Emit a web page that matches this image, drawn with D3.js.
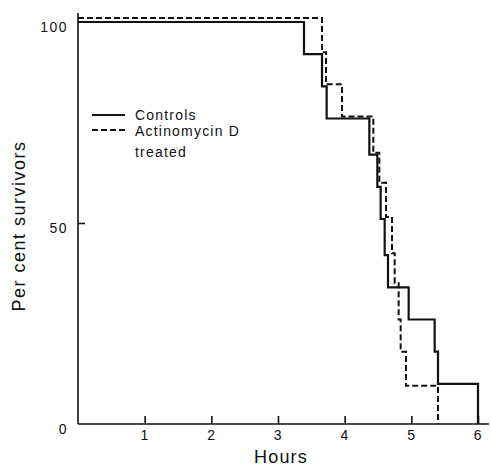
<!DOCTYPE html>
<html>
<head>
<meta charset="utf-8">
<title>Survivors</title>
<script src="https://d3js.org/d3.v7.min.js"></script>
<style>
  body { margin: 0; background: #fff; }
  text { font-family: "Liberation Sans", Arial, sans-serif; fill: #111; }
</style>
</head>
<body>
<div id="chart"></div>
<script>
// step data (hours, per cent)
const ctrlHours  = [0, 3.39, 3.66, 3.73, 4.37, 4.49, 4.54, 4.60, 4.65, 4.96, 5.35, 5.40, 6.0];
const ctrlLevels = [100, 92, 84, 76, 67, 59, 51, 42, 34, 26, 18, 10, 0];
const actHours   = [0, 3.66, 3.72, 3.96, 4.43, 4.52, 4.62, 4.71, 4.75, 4.81, 4.84, 4.92, 5.40];
const actLevels  = [101, 92.5, 84.5, 76.5, 67.5, 60, 51.5, 42.5, 35, 26, 18, 9.5, 0];
const xTicks = [1, 2, 3, 4, 5, 6];
const yTicks = [0, 50, 100];

const W = 491, H = 466;
const svg = d3.select("#chart").append("svg")
  .attr("width", W).attr("height", H);

const x = d3.scaleLinear().domain([0, 6]).range([78, 478]);
const y = d3.scaleLinear().domain([0, 100]).range([424, 22]);

// axes drawn by hand-ish, the figure has no domain box
const xAxis = svg.append("g").attr("transform", `translate(0,${y(0)})`)
  .call(d3.axisBottom(x).tickValues(xTicks).tickSize(-8).tickPadding(6).tickFormat(d3.format("d")));
xAxis.select(".domain").attr("d", `M${x(0)},0H489`);
const yAxis = svg.append("g").attr("transform", `translate(${x(0)},0)`)
  .call(d3.axisLeft(y).tickValues(yTicks).tickSize(0).tickPadding(10));
yAxis.select(".domain").attr("d", `M0,${y(0)}V13`);
// only the 50 mark has a small inward tick
yAxis.selectAll(".tick line").attr("x2", d => d === 50 ? 7 : 0);

svg.selectAll(".domain, .tick line").attr("stroke", "#111").attr("stroke-width", 1.6);
svg.selectAll(".tick text")
  .style("font-size", "14px").style("letter-spacing", "1.5px").attr("fill", "#111");
yAxis.selectAll(".tick text").attr("dy", "0.65em");

// step curves
const line = d3.line().curve(d3.curveStepAfter)
  .x(d => x(d[0])).y(d => y(d[1]));

svg.append("path")
  .datum(ctrlHours.map((h, i) => [h, ctrlLevels[i]]))
  .attr("d", line).attr("fill", "none")
  .attr("stroke", "#111").attr("stroke-width", 2.2);

svg.append("path")
  .datum(actHours.map((h, i) => [h, actLevels[i]]))
  .attr("d", line).attr("fill", "none")
  .attr("stroke", "#111").attr("stroke-width", 2)
  .attr("stroke-dasharray", "6,3");

// legend
const leg = svg.append("g");
leg.append("line").attr("x1", 92).attr("x2", 125).attr("y1", 115).attr("y2", 115)
  .attr("stroke", "#111").attr("stroke-width", 2);
leg.append("line").attr("x1", 92).attr("x2", 125).attr("y1", 130).attr("y2", 130)
  .attr("stroke", "#111").attr("stroke-width", 2).attr("stroke-dasharray", "6,3");
leg.append("text").attr("x", 135).attr("y", 120).text("Controls")
  .style("font-size", "14px").style("letter-spacing", "1.2px");
leg.append("text").attr("x", 135).attr("y", 136).text("Actinomycin D")
  .style("font-size", "14px").style("letter-spacing", "1.2px");
leg.append("text").attr("x", 135).attr("y", 157).text("treated")
  .style("font-size", "14px").style("letter-spacing", "1.2px");

// axis titles
svg.append("text").attr("x", 281).attr("y", 463).attr("text-anchor", "middle")
  .style("font-size", "18px").style("letter-spacing", "1.2px").text("Hours");
svg.append("text").attr("transform", "translate(25,226) rotate(-90)")
  .attr("text-anchor", "middle")
  .style("font-size", "18px").style("letter-spacing", "1.5px").text("Per cent survivors");
</script>
</body>
</html>
